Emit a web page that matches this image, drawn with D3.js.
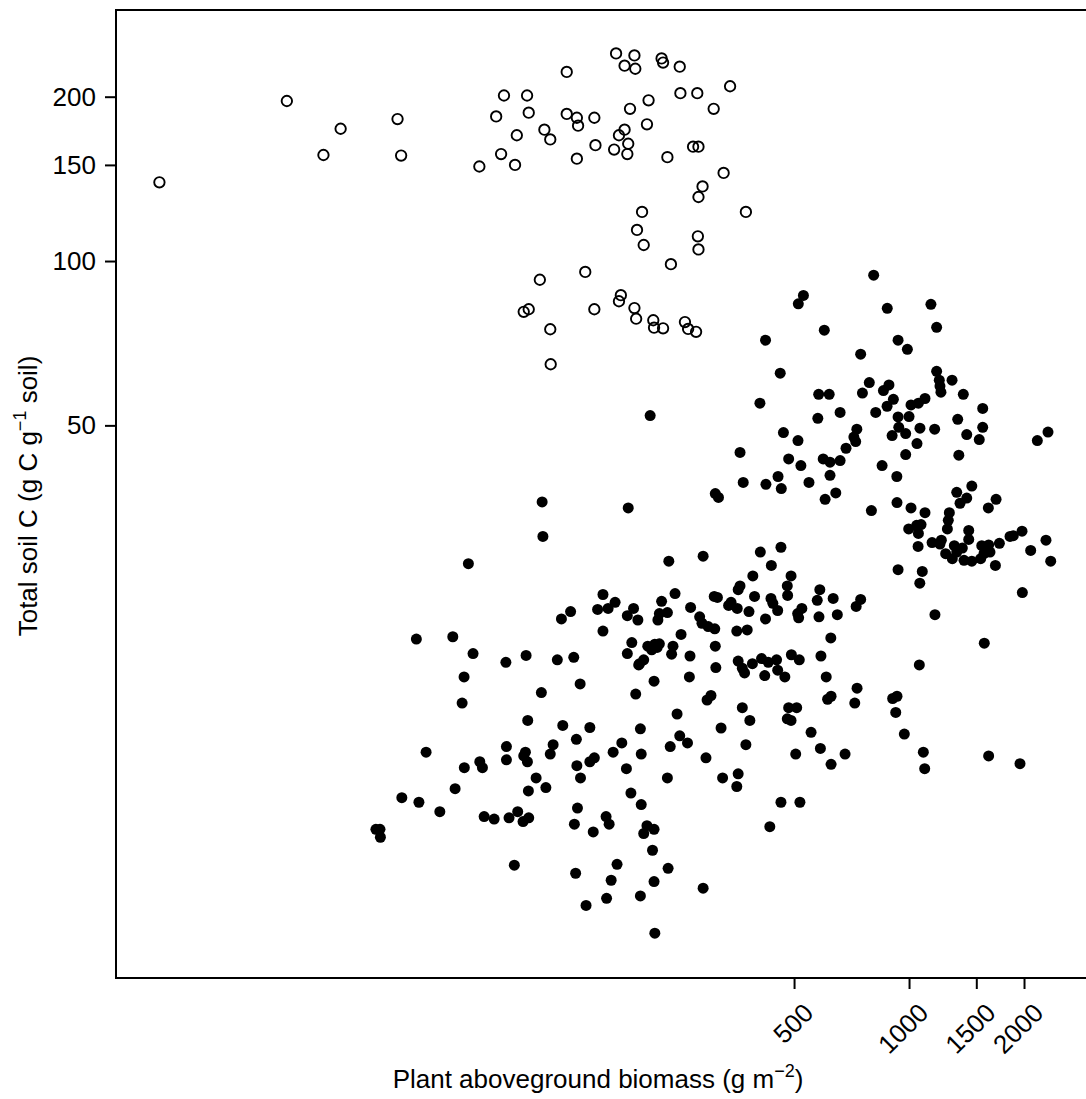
<!DOCTYPE html>
<html>
<head>
<meta charset="utf-8">
<script src="https://d3js.org/d3.v7.min.js"></script>
<style>
  body { margin: 0; background: #fff; }
  text { font-family: "Liberation Sans", Arial, Helvetica, sans-serif; fill: #000; }
</style>
</head>
<body>
<svg id="chart" width="1086" height="1099"></svg>
<script>
// open symbols (upper group)
const openBiomass = [171,191,180,192,225,227,251,127,87,100,
  252,279,340,208,308,186,45.8,83,101,127,
  135,150,136,111,115,94,206,180,174,184,
  151,169,183,135,85.5,93,75,46.8,233,272,
  281,327,288,281,374,200,194,202,280,281,
  238,142,108,98,101,150,176,174,191,193,
  214,215,227,259,264,277,115,10.9,23.5,29.3,
  32.5,115.3];
const openSoilC = [240,238,228,225,235,231,227,222,201,201,
  203,203,209,197,190,190,182,184,187,186,
  183,183,177,174,167,170,178,174,170,164,
  163,160,157,154,157,150,149,156,155,162,
  162,145,137,131,123,123,114,107,111,105,
  98.7,95.5,92.4,80.7,81.6,81.6,86.6,84.4,82,78.4,
  77.9,75.5,75.3,77.3,75.1,74.2,75,139.4,196.4,156.4,
  174.7,64.7];

// filled symbols
const filledBiomass = [808,529,513,877,1141,1181,600,421,936,990,
  747,460,1181,1200,1212,1296,787,886,857,755,
  580,618,1387,407,910,876,1101,1058,1012,1559,
  660,818,936,1000,577,1341,730,940,1068,1167,
  1559,469,512,717,725,903,980,1416,1527,1049,
  361,684,2167,2311,484,596,621,660,980,1350,
  521,850,454,621,929,368,422,463,547,1460,
  1333,643,1416,1690,603,930,311,317,1205,
  797,1012,1101,1360,1613,1275,1267,1260,1433,1433,
  998,1047,1075,1058,1056,1149,1215,1205,1314,1379,
  1247,1298,1333,1393,1460,1550,1616,1540,1571,1629,
  1724,1683,1838,1875,1976,2082,2283,2349,936,1083,
  1067,1980,1169,1574,1064,930,906,923,408,462,
  436,390,491,361,357,480,481,394,309,315,
  342,337,355,381,435,440,453,421,584,575,
  633,524,511,514,581,649,727,747,310,354,
  377,624,311,357,366,371,389,411,428,450,
  492,516,453,473,419,588,607,312,731,625,
  612,721,303,366,383,484,508,480,491,322,
  554,374,505,586,625,680,972,1090,1099,1616,1952,325,357,354,462,518,432,
  109.5,184,110,70.2,235,289,158,170,163,153,
  190,183,195,225,244,233,222,220,268,283,
  287,298,130,123,158,253,188,183,207,212,
  219,222,216,241,239,267,202,197,196,51.3,
  63.9,72.2,68.4,67.6,88,99.4,120,132.5,109,137.7,
  192.5,215,266,296,247,100.4,124,146,198,210,
  251,263,237,294,54.4,68.5,75.2,76.4,88.3,88.3,
  99,98,100.2,117,115,134.6,135,138,146,150,
  168,177,182,199,233,105.6,112,100.8,64.8,47,
  52.1,59.1,40.2,41.2,41.3,77.2,82,89.7,94.5,97.6,
  101,135.5,133,187,199,149,161,164,206,215,
  202,213,92.6,134,172,166,161.5,142.7,198,215,
  234,289,216];
const filledSoilC = [94.2,86.5,83.5,81.9,83.3,75.6,74.7,71.6,71.6,68.9,
  67.5,62.3,62.8,60.5,57.5,60.5,59.9,59.3,57.9,57.3,
  57.0,57.0,57.0,54.9,55.8,54.2,56.0,54.9,54.5,53.7,
  52.8,52.8,51.8,51.9,51.5,51.3,49.2,49.6,49.4,49.2,
  49.6,48.5,46.9,47.6,46.7,47.9,48.3,48.1,47.1,46.3,
  44.6,45.4,46.9,48.6,43.4,43.4,42.8,43.1,44.2,44.1,
  42.2,42.2,40.3,40.5,40.3,39.3,39.0,38.3,39.3,38.7,
  37.7,37.6,36.8,36.6,36.6,36.1,37.5,36.9,59.0,
  34.9,35.3,34.6,36.0,35.3,34.6,33.5,32.3,32.1,30.9,
  32.3,32.8,32.9,31.7,30.0,30.5,30.8,30.3,30.1,29.8,
  29.1,28.5,29.3,28.3,28.2,30.1,30.2,28.5,29.1,29.3,
  30.4,27.7,31.3,31.4,32.0,29.5,30.8,28.2,27.2,27.0,
  25.7,24.7,22.5,19.95,18.2,15.95,15.8,14.9,29.3,29.9,
  27.7,26.5,26.5,25.4,25.0,25.4,24.4,24.3,24.3,24.2,
  23.7,23.4,23.1,22.8,24.1,23.6,22.9,22.1,25.0,23.9,
  24.1,23.1,22.6,22.2,22.3,22.5,23.3,24.0,21.2,21.0,
  21.1,20.4,19.7,18.5,17.95,17.6,18.3,18.7,18.4,18.6,
  19.0,18.6,17.8,17.3,17.4,18.9,17.3,18.0,16.5,15.95,
  15.75,15.5,16.0,15.2,14.4,15.2,15.2,14.5,14.4,13.95,
  13.7,13.0,12.5,12.8,11.97,12.5,13.6,12.6,11.75,12.4,12.0,11.3,11.5,10.9,10.2,10.2,9.2,
  36.2,35.3,31.3,27.9,28.2,28.8,24.5,23.7,23.1,23.0,
  23.1,22.4,22.0,23.8,24.6,22.7,22.6,22.0,23.2,22.3,
  21.7,21.4,22.8,22.1,21.0,20.7,20.0,19.1,19.7,19.4,
  19.6,19.9,19.87,19.7,19.05,18.9,18.6,18.3,18.2,20.3,
  20.5,19.1,17.3,15.5,18.4,18.95,18.6,18.8,16.2,16.8,
  16.1,17.0,17.3,15.7,14.8,14.4,14.1,13.98,13.9,52.1,
  13.5,13.1,12.9,12.3,12.6,11.8,12.1,11.8,12.9,12.2,
  12.6,12.4,12.1,13.0,12.5,13.3,11.9,11.3,12.1,12.3,
  12.6,13.1,11.75,12.5,11.3,11.3,10.85,10.7,10.8,10.4,
  10.2,9.8,9.1,9.1,8.8,9.6,9.5,9.55,9.8,9.4,
  9.55,9.95,9.3,10.6,10.1,9.0,9.6,9.3,9.24,9.1,
  8.94,8.33,7.82,7.56,7.85,7.34,6.8,6.6,6.87,7.3,
  7.72,7.1,5.87];

const xTicks = [500, 1000, 1500, 2000];
const yTicks = [50, 100, 150, 200];

const svg = d3.select("#chart");
const plotLeft = 116, plotRight = 1086, plotTop = 10, plotBottom = 978;
const fontFamily = "Liberation Sans, Arial, Helvetica, sans-serif";

const x = d3.scaleLog().domain([8.39, 2906]).range([plotLeft, plotRight]);
const y = d3.scaleLog().domain([4.86, 288.3]).range([plotBottom, plotTop]);

// frame: left, top and bottom lines (right side falls off the picture)
svg.append("path")
  .attr("d", `M${plotRight + 10},${plotTop}H${plotLeft}V${plotBottom}H${plotRight + 10}`)
  .attr("fill", "none")
  .attr("stroke", "#000")
  .attr("stroke-width", 2);

const yAxis = svg.append("g")
  .attr("transform", `translate(${plotLeft},0)`)
  .call(d3.axisLeft(y).tickValues(yTicks).tickFormat(d3.format("d")).tickSize(11).tickPadding(9));
yAxis.select(".domain").remove();
yAxis.selectAll("line").attr("stroke-width", 2);
yAxis.selectAll("text").attr("font-size", 26).style("font-family", fontFamily);

const xAxis = svg.append("g")
  .attr("transform", `translate(0,${plotBottom})`)
  .call(d3.axisBottom(x).tickValues(xTicks).tickFormat(d3.format("d")).tickSize(11));
xAxis.select(".domain").remove();
xAxis.selectAll("line").attr("stroke-width", 2);
xAxis.selectAll("text")
  .attr("font-size", 26)
  .style("font-family", fontFamily)
  .attr("text-anchor", "end")
  .attr("dy", "0.35em")
  .attr("y", 0)
  .attr("transform", "translate(14,30) rotate(-45)");

// points
const filled = filledBiomass.map((b, i) => ({ b: b, c: filledSoilC[i] }));
const open = openBiomass.map((b, i) => ({ b: b, c: openSoilC[i] }));

svg.append("g")
  .selectAll("circle")
  .data(filled)
  .enter()
  .append("circle")
  .attr("cx", d => x(d.b))
  .attr("cy", d => y(d.c))
  .attr("r", 5.5)
  .attr("fill", "#000");

svg.append("g")
  .selectAll("circle")
  .data(open)
  .enter()
  .append("circle")
  .attr("cx", d => x(d.b))
  .attr("cy", d => y(d.c))
  .attr("r", 5.2)
  .attr("fill", "none")
  .attr("stroke", "#000")
  .attr("stroke-width", 1.9);

// axis titles
const xt = svg.append("text")
  .attr("x", 598)
  .attr("y", 1088)
  .attr("text-anchor", "middle")
  .attr("font-size", 26);
xt.append("tspan").text("Plant aboveground biomass (g m");
xt.append("tspan").attr("font-size", 18).attr("dy", -11).text("\u22122");
xt.append("tspan").attr("dy", 11).text(")");

const yt = svg.append("text")
  .attr("transform", "translate(37,496) rotate(-90)")
  .attr("text-anchor", "middle")
  .attr("font-size", 26);
yt.append("tspan").text("Total soil C (g C g");
yt.append("tspan").attr("font-size", 18).attr("dy", -11).text("\u22121");
yt.append("tspan").attr("dy", 11).text(" soil)");
</script>
</body>
</html>
